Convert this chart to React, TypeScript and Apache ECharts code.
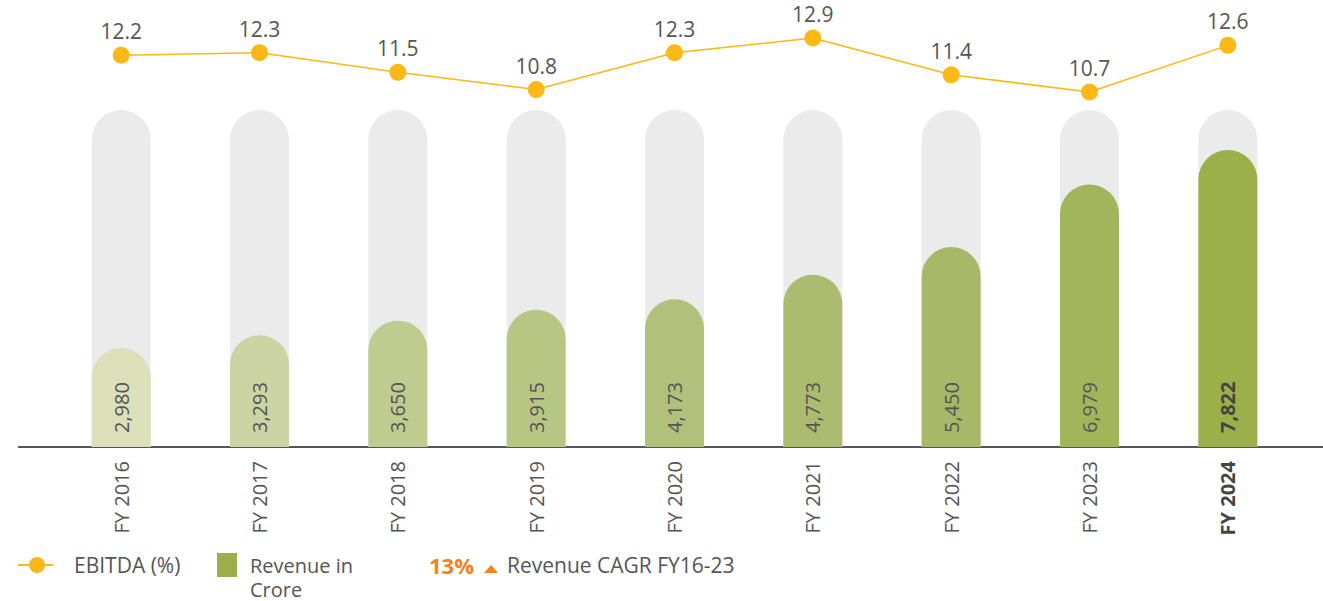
import React, { useEffect, useRef } from "react";
import * as echarts from "echarts";

const categories = ["FY 2016", "FY 2017", "FY 2018", "FY 2019", "FY 2020", "FY 2021", "FY 2022", "FY 2023", "FY 2024"];
const revenue = [2980, 3293, 3650, 3915, 4173, 4773, 5450, 6979, 7822];
const ebitda = [12.2, 12.3, 11.5, 10.8, 12.3, 12.9, 11.4, 10.7, 12.6];
const barColors = ["#dbe0bb", "#cbd4a2", "#c0cb8f", "#b8c684", "#b1c17b", "#abbc70", "#a7b968", "#a3b55b", "#9caf4b"];

const FONT = "'Open Sans', 'Noto Sans', sans-serif";
const TEXT = "#555555";

export default function App() {
  const ref = useRef<HTMLDivElement>(null);
  useEffect(() => {
    if (!ref.current) return;
    const chart = echarts.init(ref.current, null, { renderer: "svg" });
    const last = categories.length - 1;
    chart.setOption({
      animation: false,
      textStyle: { fontFamily: FONT },
      grid: [
        { left: 52, right: 26, top: 110, bottom: 154 },
        { left: 52, right: 26, top: 38, height: 54 },
      ],
      xAxis: [
        {
          type: "category",
          gridIndex: 0,
          data: categories,
          axisLine: { show: false },
          axisTick: { show: false },
          axisLabel: {
            rotate: 90,
            margin: 14,
            fontSize: 20,
            color: TEXT,
            fontFamily: FONT,
            formatter: (v: string) => (v === categories[last] ? `{b|${v}}` : v),
            rich: { b: { fontWeight: "bold", fontSize: 20, color: "#444", fontFamily: FONT } },
          },
        },
        {
          type: "category",
          gridIndex: 1,
          data: categories,
          show: false,
        },
      ],
      yAxis: [
        { type: "value", gridIndex: 0, min: 560, max: 8800, show: false },
        { type: "value", gridIndex: 1, min: 10.7, max: 12.9, show: false },
      ],
      series: [
        {
          type: "bar",
          xAxisIndex: 0,
          yAxisIndex: 0,
          barWidth: 59,
          showBackground: true,
          backgroundStyle: { color: "#ebebeb", borderRadius: [30, 30, 0, 0] },
          data: revenue.map((v, i) => ({
            value: v,
            itemStyle: { color: barColors[i], borderRadius: [30, 30, 0, 0] },
            label: i === last ? { fontWeight: "bold", color: "#444" } : undefined,
          })),
          label: {
            show: true,
            position: "insideBottom",
            rotate: 90,
            align: "left",
            verticalAlign: "middle",
            distance: 14,
            fontSize: 20,
            color: TEXT,
            fontFamily: FONT,
            formatter: (p: any) => Number(p.value).toLocaleString("en-US"),
          },
        },
        {
          type: "line",
          xAxisIndex: 1,
          yAxisIndex: 1,
          data: ebitda,
          symbol: "circle",
          symbolSize: 17,
          clip: false,
          lineStyle: { color: "#fbb817", width: 1.5 },
          itemStyle: { color: "#fbb817" },
          label: {
            show: true,
            position: "top",
            distance: 5,
            fontSize: 21,
            color: TEXT,
            fontFamily: FONT,
            formatter: (p: any) => Number(p.value).toFixed(1),
          },
        },
      ],
      graphic: [
        { type: "line", shape: { x1: 18, y1: 447, x2: 1323, y2: 447 }, style: { stroke: "#555", lineWidth: 2 } },
        { type: "line", shape: { x1: 18, y1: 565, x2: 53, y2: 565 }, style: { stroke: "#fbb817", lineWidth: 2 } },
        { type: "circle", shape: { cx: 37, cy: 565, r: 8 }, style: { fill: "#fbb817" } },
        { type: "text", x: 74, y: 565, style: { text: "EBITDA (%)", fill: TEXT, fontSize: 21, fontFamily: FONT, verticalAlign: "middle" } },
        { type: "rect", shape: { x: 217, y: 553, width: 20, height: 24 }, style: { fill: "#9caf4b" } },
        { type: "text", x: 250, y: 553, style: { text: "Revenue in\nCrore", fill: TEXT, fontSize: 20, lineHeight: 24, fontFamily: FONT, verticalAlign: "top" } },
        { type: "text", x: 429, y: 565, style: { text: "13%", fill: "#f58220", fontSize: 22, fontWeight: "bold", fontFamily: FONT, verticalAlign: "middle" } },
        { type: "polygon", shape: { points: [[484, 573], [498, 573], [491, 565]] }, style: { fill: "#f58220" } },
        { type: "text", x: 507, y: 565, style: { text: "Revenue CAGR FY16-23", fill: TEXT, fontSize: 21, fontFamily: FONT, verticalAlign: "middle" } },
      ],
    });
    return () => chart.dispose();
  }, []);
  return <div ref={ref} style={{ position: "absolute", left: 0, top: 0, width: 1323, height: 601 }} />;
}
